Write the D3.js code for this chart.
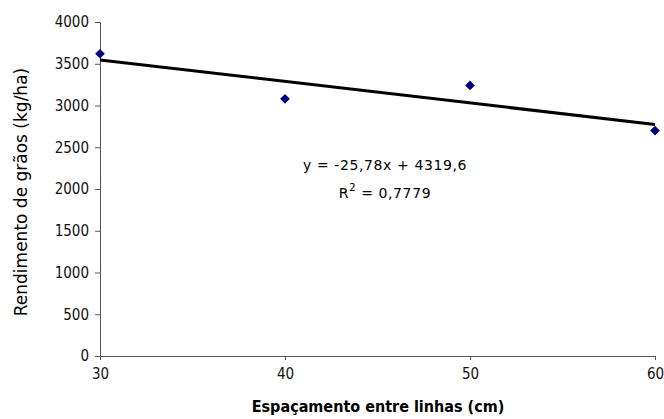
<!DOCTYPE html>
<html lang="pt">
<head>
  <meta charset="UTF-8">
  <title>Rendimento x espaçamento</title>
  <style>
    body { margin: 0; background: #fff; }
  </style>
</head>
<body>
  <script src="https://d3js.org/d3.v7.min.js"></script>
  <div id="chart"></div>
  <script>
    // data
    const spacing = [30, 40, 50, 60]
    const yieldKg = [3620, 3080, 3240, 2700]
    const xTicks = [30, 40, 50, 60]
    const yTicks = [0, 500, 1000, 1500, 2000, 2500, 3000, 3500, 4000]
    const slope = -25.78
    const intercept = 4319.6
    const eqLines = ['y = -25,78x + 4319,6', 'R² = 0,7779']

    const svg = d3.select('#chart')
      .append('svg')
      .attr('width', 664)
      .attr('height', 419)

    const x = d3.scaleLinear().domain([30, 60]).range([100, 655])
    const y = d3.scaleLinear().domain([0, 4000]).range([356, 22])

    const yAxis = svg.append('g')
      .attr('transform', 'translate(100,0)')
      .call(d3.axisLeft(y).tickValues(yTicks).tickFormat(d3.format('d'))
        .tickSize(5).tickPadding(6).tickSizeOuter(0))
    const xAxis = svg.append('g')
      .attr('transform', 'translate(0,356)')
      .call(d3.axisBottom(x).tickValues(xTicks).tickFormat(d3.format('d'))
        .tickSize(4).tickPadding(8).tickSizeOuter(0))
    svg.selectAll('.domain, .tick line').attr('stroke', '#555')
    svg.selectAll('.tick text')
      .attr('font-family', '"Liberation Sans Narrow", "DejaVu Sans Condensed", sans-serif')
      .attr('font-size', 15)
      .attr('fill', '#111')

    // trend line
    const line = d3.line().x(d => x(d)).y(d => y(intercept + slope * d))
    svg.append('path')
      .datum([30, 60])
      .attr('d', line)
      .attr('fill', 'none')
      .attr('stroke', '#000')
      .attr('stroke-width', 3)

    // points
    svg.selectAll('.pt')
      .data(spacing)
      .join('path')
      .attr('class', 'pt')
      .attr('d', d3.symbol(d3.symbolDiamond2, 60))
      .attr('transform', (d, i) => `translate(${x(d)},${y(yieldKg[i])})`)
      .attr('fill', '#000080')

    // equation
    svg.append('text')
      .attr('x', 385).attr('y', 170)
      .attr('text-anchor', 'middle')
      .style('font-family', 'DejaVu Sans, sans-serif')
      .style('font-size', '14px')
      .style('letter-spacing', '0.6px')
      .text(eqLines[0])
    const r2 = svg.append('text')
      .attr('x', 385).attr('y', 198)
      .attr('text-anchor', 'middle')
      .style('font-family', 'DejaVu Sans, sans-serif')
      .style('font-size', '14px')
      .style('letter-spacing', '0.6px')
    r2.append('tspan').text('R')
    r2.append('tspan').attr('dy', -7).style('font-size', '10px').text('2')
    r2.append('tspan').attr('dy', 7).text(' = 0,7779')

    // axis titles
    svg.append('text')
      .attr('transform', 'translate(27,192) rotate(-90)')
      .attr('text-anchor', 'middle')
      .style('font-family', 'DejaVu Sans, sans-serif')
      .style('font-size', '17px')
      .text('Rendimento de grãos (kg/ha)')
    svg.append('text')
      .attr('x', 378).attr('y', 412)
      .attr('text-anchor', 'middle')
      .style('font-family', 'DejaVu Sans Condensed, sans-serif')
      .style('font-size', '16px')
      .style('font-weight', 'bold')
      .text('Espaçamento entre linhas (cm)')
  </script>
</body>
</html>
